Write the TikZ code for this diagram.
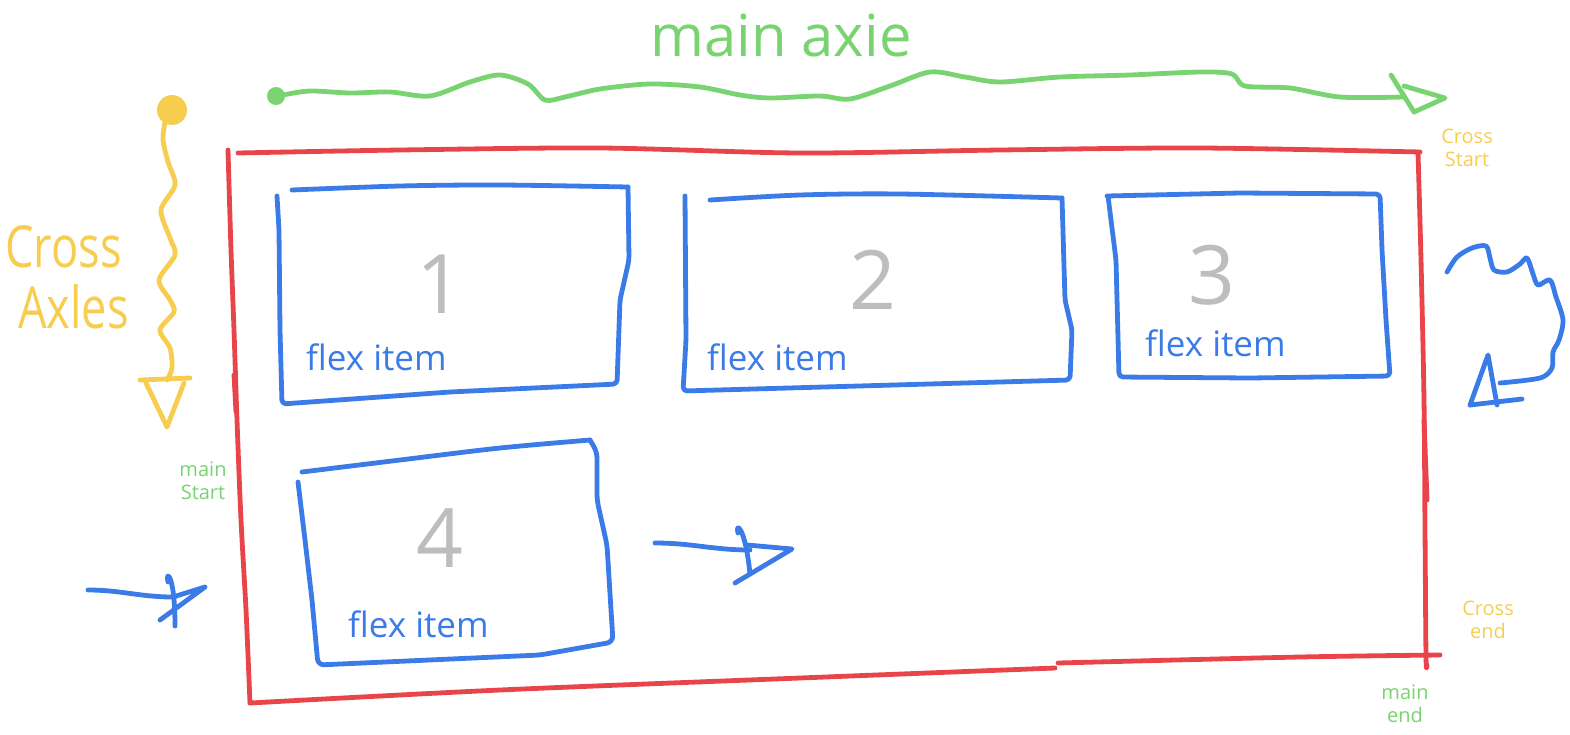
\documentclass[tikz,border=0pt]{standalone}
\usepackage{fontspec}
\setmainfont{Open Sans}
\newfontfamily\handnarrow[FakeStretch=0.78]{Open Sans}
\usetikzlibrary{calc}
\definecolor{sred}{HTML}{E8454B}
\definecolor{sblue}{HTML}{3B7BE8}
\definecolor{sgreen}{HTML}{78D370}
\definecolor{syellow}{HTML}{F7CD50}
\definecolor{sgray}{HTML}{BDBDBD}
\tikzset{
  pen/.style={line width=4.8pt, line cap=round, line join=round},
  redpen/.style={pen, draw=sred},
  bluepen/.style={pen, draw=sblue},
  greenpen/.style={pen, draw=sgreen},
  yellowpen/.style={pen, draw=syellow},
  digit/.style={text=sgray, font=\fontsize{82}{84}\selectfont, inner sep=0pt},
  itemlabel/.style={text=sblue, font=\fontsize{35}{37}\selectfont, anchor=base west, inner sep=0pt},
  smalllabel/.style={font=\fontsize{20}{23}\selectfont, align=center, inner sep=0pt},
  biglabel/.style={text=syellow, font=\handnarrow\fontsize{58}{60}\selectfont, anchor=base west, inner sep=0pt},
}
\begin{document}
\begin{tikzpicture}[x=1pt,y=-1pt]
\useasboundingbox (0,0) rectangle (1570,734);

% ---------- red container ----------
\draw[redpen] plot[smooth] coordinates {(238,153) (400,150) (600,148) (800,153) (1000,150) (1200,148) (1420,152)};
\draw[redpen] plot[smooth] coordinates {(228,150) (231,250) (234,330) (237,420) (241,520) (246,610) (250,703)};
\draw[redpen] plot[smooth] coordinates {(1418,152) (1421,260) (1424,400) (1425,530) (1426,657) (1427,665)};
\draw[redpen] plot[smooth] coordinates {(250,703) (500,690) (800,678) (1055,668)};
\draw[redpen] plot[smooth] coordinates {(1058,663) (1300,657) (1440,655)};
\draw[redpen] (234,375) -- (236,412);
\draw[redpen] (1424,420) -- (1427,500);

% ---------- main axis (green) ----------
\fill[sgreen] (276,96) circle[radius=9];
\coordinate (mstart) at (283,95);
\coordinate (mend) at (1445,98);
\draw[greenpen] plot[smooth] coordinates {(mstart) (310,91) (350,93) (390,92) (430,96) (470,82) (500,75) (528,84) (545,100) (565,97) (600,89) (650,84) (700,87) (740,95) (770,98) (820,96) (850,99) (890,86) (930,72) (965,77) (1000,82) (1060,77) (1130,75) (1200,72) (1232,74) (1245,86) (1290,88) (1340,97) (1403,97)};
\draw[greenpen] (1391,75) -- (1414,112);
\draw[greenpen] (1404,86) -- (mend) -- (1414,112);
\node[text=sgreen, font=\fontsize{58}{60}\selectfont, anchor=base west, inner sep=0pt] (mainaxie) at (650,56) {main axie};

% ---------- cross axis (yellow) ----------
\fill[syellow] (172,110) circle[radius=15];
\coordinate (cstart) at (165,122);
\coordinate (cend) at (167,427);
\draw[yellowpen] plot[smooth] coordinates {(cstart) (163,140) (168,162) (175,185) (161,210) (170,238) (175,255) (159,280) (170,300) (174,312) (160,330) (170,348) (172,368) (167,380)};
\draw[yellowpen] (140,380) -- (190,378);
\draw[yellowpen] (146,383) -- (cend) -- (184,383);
\node[biglabel] (cross) at (5,267) {Cross};
\node[biglabel] (axles) at (18,328) {Axles};

% ---------- flex items ----------
\draw[bluepen] plot[smooth] coordinates {(292,190) (400,186) (500,185) (628,187)};
\draw[bluepen, rounded corners=4pt] (628,187) -- (629,260) -- (620,300) -- (617,384) -- (450,392) -- (282,404) -- (280,330) -- (279,230) -- (277,196);
\node[digit] (n1) at (440,284) {1};
\node[itemlabel] (l1) at (306,370) {flex item};

\draw[bluepen] plot[smooth] coordinates {(710,200) (800,195) (900,194) (1062,198)};
\draw[bluepen, rounded corners=4pt] (1062,198) -- (1065,300) -- (1072,330) -- (1070,380) -- (683,391) -- (686,340) -- (685,196);
\node[digit] (n2) at (873,280) {2};
\node[itemlabel] (l2) at (707,370) {flex item};

\draw[bluepen, rounded corners=4pt] (1107,196) -- (1240,193) -- (1380,194) -- (1382,250) -- (1386,320) -- (1390,376) -- (1250,378) -- (1119,377) -- (1116,260) -- (1108,196);
\node[digit] (n3) at (1212,275) {3};
\node[itemlabel] (l3) at (1145,356) {flex item};

\draw[bluepen] plot[smooth] coordinates {(302,472) (400,460) (500,448) (590,440)};
\draw[bluepen, rounded corners=6pt] (590,440) -- (597,452) -- (597,500) -- (607,545) -- (613,642) -- (540,655) -- (318,665) -- (312,600) -- (305,540) -- (298,482);
\node[digit] (n4) at (440,538) {4};
\node[itemlabel] (l4) at (348,637) {flex item};

% ---------- blue arrows ----------
\coordinate (a1s) at (88,590);
\coordinate (a1e) at (173,597);
\draw[bluepen] (a1s) to[out=0,in=180] (a1e);
\draw[bluepen] (168,582) .. controls (165,570) and (175,572) .. (175,626);
\draw[bluepen] (a1e) -- (205,587) -- (160,620);

\coordinate (a2s) at (655,543);
\coordinate (a2e) at (750,550);
\draw[bluepen] (a2s) to[out=0,in=180] (a2e);
\draw[bluepen] (738,533) .. controls (735,522) and (745,525) .. (750,574);
\draw[bluepen] (747,545) -- (792,549) -- (735,583);

% curly wrap arrow on the right
\coordinate (wstart) at (1447,272);
\coordinate (wtip) at (1488,355);
\draw[bluepen] plot[smooth] coordinates {(wstart) (1457,257) (1472,248) (1486,246) (1490,258) (1494,270) (1507,272) (1520,264) (1527,258) (1533,274) (1538,285) (1550,280) (1556,297) (1563,320) (1559,340) (1553,352) (1552,368) (1540,378) (1500,383)};
\draw[bluepen] (1470,405) -- (wtip) -- (1497,405);
\draw[bluepen] (1470,405) -- (1522,399);

% ---------- small labels ----------
\node[smalllabel, text=syellow] (crossstart) at (1467,148) {Cross\\Start};
\node[smalllabel, text=syellow] (crossend) at (1488,620) {Cross\\end};
\node[smalllabel, text=sgreen] (mainstart) at (203,481) {main\\Start};
\node[smalllabel, text=sgreen] (mainend) at (1405,704) {main\\end};
\end{tikzpicture}
\end{document}
